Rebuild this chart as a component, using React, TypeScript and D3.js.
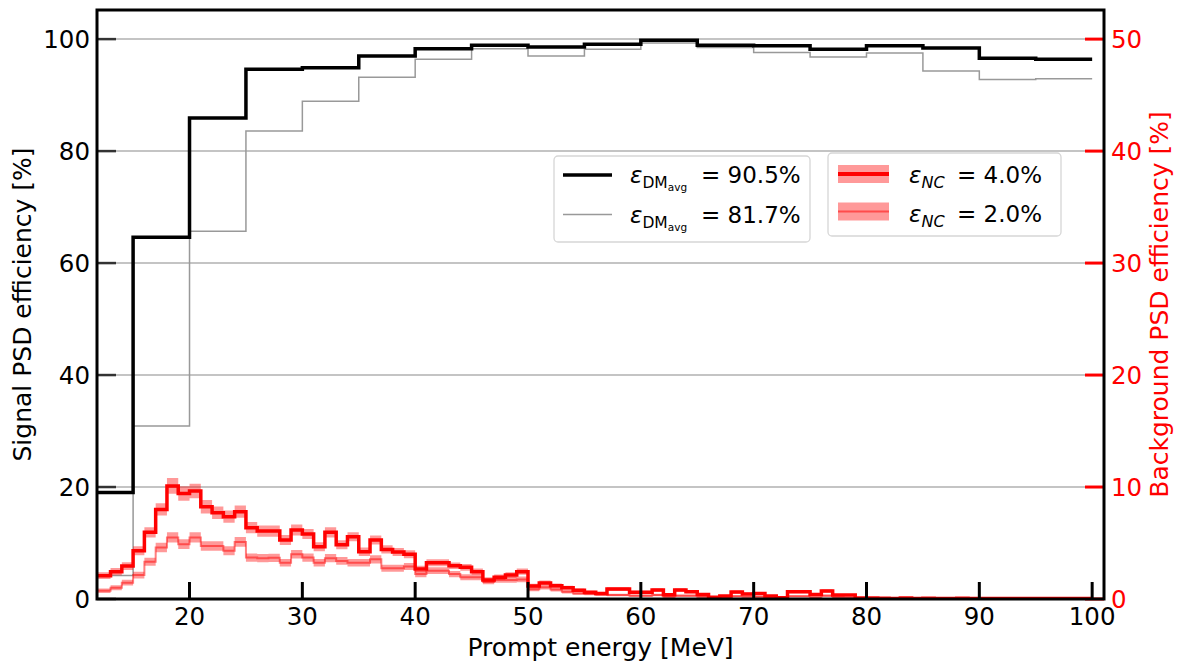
import React from "react";
import * as d3 from "d3";

// ---- Data ----
// Signal PSD efficiency, 5 MeV bins starting at 10 MeV (left axis, %)
const signalBinStart = 10;
const signalBinWidth = 5;
const signalEff90: number[] = [19.0, 64.6, 85.9, 94.6, 94.9, 97.0, 98.3, 98.9, 98.6, 99.1, 99.8, 98.9, 98.8, 98.2, 98.8, 98.4, 96.6, 96.4];
const signalEff82: number[] = [4.2, 30.9, 65.7, 83.6, 88.9, 93.2, 96.4, 98.3, 97.0, 98.2, 99.3, 98.5, 97.6, 96.8, 97.5, 94.3, 92.8, 92.9];

// Background PSD efficiency, 1 MeV bins starting at 11 MeV (right axis, %)
const bgBinStart = 11;
const bgBinWidth = 1;
const bgEff4: number[] = [
  2.08, 2.08, 2.44, 2.94, 4.3, 5.95, 8.0, 10.1, 9.43, 9.64,
  8.24, 7.7, 7.35, 7.8, 6.37, 6.07, 6.07, 5.27, 6.16, 5.8,
  4.67, 5.95, 4.85, 5.56, 4.22, 5.27, 4.43, 4.2, 4.0, 2.68,
  3.24, 3.24, 2.97, 2.83, 2.44, 1.7, 1.94, 2.14, 2.44, 1.16,
  1.44, 1.18, 1.0, 0.78, 0.6, 0.5, 0.89, 0.89, 0.6, 0.6,
  0.8, 0.38, 0.8, 0.65, 0.4, 0.15, 0.27, 0.62, 0.45, 0.5,
  0.27, 0.12, 0.65, 0.65, 0.4, 0.72, 0.35, 0.35, 0.1, 0.08,
  0.06, 0.05, 0.08, 0.05, 0.06, 0.05, 0.04, 0.06, 0.05, 0.04,
  0.05, 0.04, 0.05, 0.04, 0.05, 0.04, 0.05, 0.04, 0.04,
];
const bgErr4: number[] = [
  0.3, 0.3, 0.32, 0.35, 0.4, 0.45, 0.55, 0.7, 0.65, 0.65,
  0.6, 0.55, 0.55, 0.55, 0.5, 0.5, 0.5, 0.45, 0.5, 0.45,
  0.4, 0.45, 0.4, 0.4, 0.38, 0.4, 0.36, 0.35, 0.35, 0.3,
  0.32, 0.32, 0.3, 0.3, 0.28, 0.25, 0.25, 0.26, 0.28, 0.2,
  0.22, 0.2, 0.18, 0.16, 0.14, 0.13, 0.17, 0.17, 0.14, 0.14,
  0.16, 0.11, 0.16, 0.14, 0.11, 0.07, 0.09, 0.14, 0.12, 0.12,
  0.09, 0.06, 0.14, 0.14, 0.11, 0.15, 0.1, 0.1, 0.05, 0.05,
  0.04, 0.04, 0.04, 0.04, 0.04, 0.04, 0.04, 0.04, 0.04, 0.04,
  0.04, 0.04, 0.04, 0.04, 0.04, 0.04, 0.04, 0.04, 0.04,
];
const bgEff2: number[] = [
  0.74, 0.74, 1.0, 1.46, 2.14, 3.33, 4.6, 5.5, 4.9, 5.5,
  4.73, 4.73, 4.3, 5.1, 3.7, 3.65, 3.68, 3.24, 4.0, 3.7,
  3.24, 3.65, 3.4, 3.24, 3.24, 3.54, 2.74, 2.74, 2.9, 2.23,
  2.53, 2.53, 2.23, 1.94, 1.94, 1.55, 1.7, 1.7, 1.75, 0.87,
  1.04, 0.85, 0.65, 0.5, 0.45, 0.4, 0.35, 0.35, 0.3, 0.3,
  0.35, 0.2, 0.3, 0.3, 0.2, 0.1, 0.15, 0.25, 0.2, 0.2,
  0.12, 0.05, 0.25, 0.25, 0.15, 0.3, 0.15, 0.12, 0.05, 0.04,
  0.03, 0.03, 0.03, 0.03, 0.03, 0.03, 0.03, 0.03, 0.03, 0.03,
  0.03, 0.03, 0.03, 0.03, 0.03, 0.03, 0.03, 0.03, 0.03,
];
const bgErr2: number[] = [
  0.2, 0.2, 0.22, 0.26, 0.3, 0.36, 0.42, 0.46, 0.43, 0.46,
  0.42, 0.42, 0.4, 0.44, 0.37, 0.36, 0.37, 0.34, 0.38, 0.37,
  0.34, 0.37, 0.35, 0.34, 0.34, 0.36, 0.31, 0.31, 0.32, 0.28,
  0.3, 0.3, 0.28, 0.26, 0.26, 0.24, 0.25, 0.25, 0.25, 0.18,
  0.2, 0.18, 0.15, 0.13, 0.12, 0.12, 0.11, 0.11, 0.1, 0.1,
  0.11, 0.08, 0.1, 0.1, 0.08, 0.06, 0.07, 0.09, 0.08, 0.08,
  0.06, 0.04, 0.09, 0.09, 0.07, 0.1, 0.07, 0.06, 0.04, 0.03,
  0.03, 0.03, 0.03, 0.03, 0.03, 0.03, 0.03, 0.03, 0.03, 0.03,
  0.03, 0.03, 0.03, 0.03, 0.03, 0.03, 0.03, 0.03, 0.03,
];

const xTicks: number[] = [20, 30, 40, 50, 60, 70, 80, 90, 100];
const yLeftTicks: number[] = [0, 20, 40, 60, 80, 100];
const yRightTicks: number[] = [0, 10, 20, 30, 40, 50];

const legendSignal = [
  { label: "90.5%", color: "#000000", width: 3.5 },
  { label: "81.7%", color: "#999999", width: 1.5 },
];
const legendBg = [
  { label: "4.0%", lineOpacity: 1, width: 4 },
  { label: "2.0%", lineOpacity: 0.5, width: 2 },
];

// ---- Layout ----
const W = 1181;
const H = 662;
const L = 97, R = 1104, T = 10, B = 599;
const FONT = "DejaVu Sans, sans-serif";

type Pt = [number, number];

function stepPoints(start: number, width: number, vals: number[]): Pt[] {
  const pts: Pt[] = vals.map((v, i) => [start + i * width, v] as Pt);
  pts.push([start + vals.length * width, vals[vals.length - 1]]);
  return pts;
}

export default function App() {
  const x = d3.scaleLinear().domain([11.8, 101.05]).range([L, R]);
  const yL = d3.scaleLinear().domain([0, 105.2]).range([B, T]);
  const yR = d3.scaleLinear().domain([0, 52.6]).range([B, T]);

  const lineL = d3.line<Pt>().x((d) => x(d[0])).y((d) => yL(d[1])).curve(d3.curveStepAfter);
  const lineR = d3.line<Pt>().x((d) => x(d[0])).y((d) => yR(d[1])).curve(d3.curveStepAfter);

  type BandPt = [number, number, number];
  const bandPts = (vals: number[], errs: number[]): BandPt[] => {
    const pts: BandPt[] = vals.map((v, i) => [bgBinStart + i * bgBinWidth, v - errs[i], v + errs[i]] as BandPt);
    const n = vals.length - 1;
    pts.push([bgBinStart + vals.length * bgBinWidth, vals[n] - errs[n], vals[n] + errs[n]]);
    return pts;
  };
  const area = d3
    .area<BandPt>()
    .x((d) => x(d[0]))
    .y0((d) => yR(Math.max(0, d[1])))
    .y1((d) => yR(d[2]))
    .curve(d3.curveStepAfter);

  const black = lineL(stepPoints(signalBinStart, signalBinWidth, signalEff90)) || "";
  const grey = lineL(stepPoints(signalBinStart, signalBinWidth, signalEff82)) || "";
  const red4 = lineR(stepPoints(bgBinStart, bgBinWidth, bgEff4)) || "";
  const red2 = lineR(stepPoints(bgBinStart, bgBinWidth, bgEff2)) || "";
  const band4 = area(bandPts(bgEff4, bgErr4)) || "";
  const band2 = area(bandPts(bgEff2, bgErr2)) || "";

  const tickFont = 24.5;
  const labelFont = 25;

  return (
    <svg
      width={W}
      height={H}
      style={{ position: "absolute", left: 0, top: 0, background: "#fff" }}
      fontFamily={FONT}
    >
      <defs>
        <clipPath id="plotclip">
          <rect x={L} y={T} width={R - L} height={B - T} />
        </clipPath>
      </defs>
      <rect x={0} y={0} width={W} height={H} fill="#fff" />

      {/* grid */}
      {yLeftTicks.map((t) => (
        <line key={"g" + t} x1={L} x2={R} y1={yL(t)} y2={yL(t)} stroke="#b0b0b0" strokeWidth={1.5} />
      ))}

      <g clipPath="url(#plotclip)">
        <path d={grey} fill="none" stroke="#999999" strokeWidth={1.5} />
        <path d={black} fill="none" stroke="#000" strokeWidth={3.5} />
        <path d={band2} fill="red" fillOpacity={0.4} stroke="none" />
        <path d={red2} fill="none" stroke="red" strokeOpacity={0.5} strokeWidth={2} />
        <path d={band4} fill="red" fillOpacity={0.4} stroke="none" />
        <path d={red4} fill="none" stroke="red" strokeWidth={3.5} />
      </g>

      {/* left ticks */}
      {yLeftTicks.map((t) => (
        <g key={"yl" + t}>
          <line x1={L} x2={L + 19} y1={yL(t)} y2={yL(t)} stroke="#333" strokeWidth={2.5} />
          <text x={90} y={yL(t)} textAnchor="end" dominantBaseline="central" fontSize={tickFont} fill="#000">
            {t}
          </text>
        </g>
      ))}
      {/* right ticks */}
      {yRightTicks.map((t) => (
        <g key={"yr" + t}>
          <line x1={R - 19} x2={R} y1={yR(t)} y2={yR(t)} stroke="red" strokeWidth={3} />
          <text x={1111} y={yR(t)} textAnchor="start" dominantBaseline="central" fontSize={tickFont} fill="red">
            {t}
          </text>
        </g>
      ))}
      {/* x ticks */}
      {xTicks.map((t) => (
        <g key={"x" + t}>
          <line x1={x(t)} x2={x(t)} y1={B} y2={B - 17} stroke="#000" strokeWidth={3} />
          <text x={x(t)} y={625} textAnchor="middle" fontSize={tickFont} fill="#000">
            {t}
          </text>
        </g>
      ))}

      {/* frame */}
      <rect x={L} y={T} width={R - L} height={B - T} fill="none" stroke="#000" strokeWidth={3} />

      {/* axis labels */}
      <text x={(L + R) / 2} y={656} textAnchor="middle" fontSize={labelFont} fill="#000">
        Prompt energy [MeV]
      </text>
      <text transform={`translate(31,${(T + B) / 2}) rotate(-90)`} textAnchor="middle" fontSize={labelFont} fill="#000">
        Signal PSD efficiency [%]
      </text>
      <text transform={`translate(1168,${(T + B) / 2}) rotate(-90)`} textAnchor="middle" fontSize={labelFont} fill="red">
        Background PSD efficiency [%]
      </text>

      {/* legend 1 */}
      <rect x={554} y={156} width={256} height={86} rx={4} fill="#fff" fillOpacity={0.8} stroke="#d6d6d6" strokeWidth={1.3} />
      {legendSignal.map((d, i) => {
        const cy = 175 + i * 39.5;
        const by = 183 + i * 40;
        return (
          <g key={"ls" + i}>
            <line x1={563} x2={612} y1={cy} y2={cy} stroke={d.color} strokeWidth={d.width} />
            <text x={630} y={by} fontSize={23} fill="#000">
              <tspan fontStyle="italic">ε</tspan>
              <tspan fontSize={15.5} dy={5}>DM</tspan>
              <tspan fontSize={10.5} dy={3}>avg</tspan>
            </text>
            <text x={701} y={by} fontSize={23} fill="#000">
              = {d.label}
            </text>
          </g>
        );
      })}

      {/* legend 2 */}
      <rect x={828} y={153} width={233} height={83} rx={4} fill="#fff" fillOpacity={0.8} stroke="#d6d6d6" strokeWidth={1.3} />
      {legendBg.map((d, i) => {
        const cy = 174 + i * 37.5;
        const by = 183 + i * 38.5;
        return (
          <g key={"lb" + i}>
            <rect x={838} y={cy - 9} width={51} height={18} fill="red" fillOpacity={0.4} />
            <line x1={838} x2={889} y1={cy} y2={cy} stroke="red" strokeOpacity={d.lineOpacity} strokeWidth={d.width} />
            <text x={909} y={by} fontSize={23} fill="#000">
              <tspan fontStyle="italic">ε</tspan>
              <tspan fontSize={16} dy={5} fontStyle="italic">NC</tspan>
            </text>
            <text x={957} y={by} fontSize={23} fill="#000">
              = {d.label}
            </text>
          </g>
        );
      })}
    </svg>
  );
}
